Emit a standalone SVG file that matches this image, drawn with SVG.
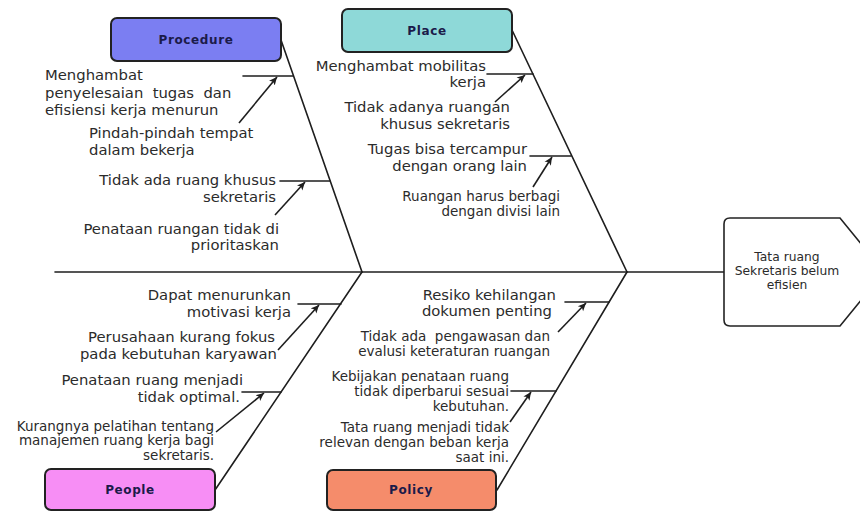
<svg xmlns="http://www.w3.org/2000/svg" width="860" height="512" viewBox="0 0 860 512">
<style>
.bg{fill:#ffffff}
.ln{stroke:#1e1e1e;stroke-width:1.6;fill:none;stroke-linecap:round}
.ar{stroke:#1e1e1e;stroke-width:1.6;fill:none;marker-end:url(#ah)}
.box{stroke:#222222;stroke-width:2}
.lab{font-family:"DejaVu Sans",sans-serif;font-weight:bold;font-size:12px;fill:#1b1b4a;text-anchor:middle;letter-spacing:0.6px}
.t{font-family:"DejaVu Sans",sans-serif;font-size:14.8px;fill:#2b2b2b}
.s{font-family:"DejaVu Sans",sans-serif;font-size:13.5px;fill:#2b2b2b}
.h{font-family:"DejaVu Sans",sans-serif;font-size:12.3px;fill:#2b2b2b;text-anchor:middle}
.e{text-anchor:end}
</style>
<defs>
<marker id="ah" markerWidth="9" markerHeight="9" refX="8" refY="4.5" orient="auto" markerUnits="userSpaceOnUse">
<path d="M0,0.8 L8,4.5 L0,8.2 L2,4.5 Z" fill="#1e1e1e"/>
</marker>
</defs>
<rect class="bg" x="0" y="0" width="860" height="512"/>

<g id="connectors">
<line class="ln" x1="55" y1="272" x2="724" y2="272"/>
<line class="ln" x1="281" y1="40" x2="362" y2="272"/>
<line class="ln" x1="512" y1="30" x2="627" y2="272"/>
<line class="ln" x1="215" y1="490" x2="362" y2="272"/>
<line class="ln" x1="497" y1="490" x2="627" y2="272"/>
<line class="ln" x1="243" y1="76" x2="293" y2="76"/>
<line class="ln" x1="280" y1="181" x2="330" y2="181"/>
<line class="ln" x1="487" y1="74" x2="533" y2="74"/>
<line class="ln" x1="530" y1="156" x2="571" y2="156"/>
<line class="ln" x1="298" y1="304" x2="341" y2="304"/>
<line class="ln" x1="242" y1="392" x2="281" y2="392"/>
<line class="ln" x1="565" y1="302" x2="609" y2="302"/>
<line class="ln" x1="511" y1="391" x2="556" y2="391"/>
<line class="ar" x1="239" y1="123" x2="277" y2="77"/>
<line class="ar" x1="275" y1="215" x2="305" y2="182"/>
<line class="ar" x1="495" y1="102" x2="525" y2="75"/>
<line class="ar" x1="533" y1="187" x2="552" y2="157"/>
<line class="ar" x1="278" y1="350" x2="319" y2="305"/>
<line class="ar" x1="216" y1="432" x2="264" y2="393"/>
<line class="ar" x1="558" y1="332" x2="586" y2="303"/>
<line class="ar" x1="510" y1="422" x2="531" y2="392"/>
</g>

<g id="node-procedure">
<rect class="box" x="111" y="18" width="170" height="43" rx="6" fill="#7b7ef2"/>
<text class="lab" x="196" y="44">Procedure</text>
</g>
<g id="node-place">
<rect class="box" x="342" y="9" width="170" height="43" rx="6" fill="#8ed9d8"/>
<text class="lab" x="427" y="35">Place</text>
</g>
<g id="node-people">
<rect class="box" x="45" y="469" width="170" height="41" rx="6" fill="#f78ef5"/>
<text class="lab" x="130" y="494">People</text>
</g>
<g id="node-policy">
<rect class="box" x="327" y="470" width="169" height="40" rx="6" fill="#f58c6b"/>
<text class="lab" x="411" y="494">Policy</text>
</g>
<g id="node-head">
<path d="M730,218 L840,218 L884,272 L840,326 L730,326 Q724,326 724,320 L724,224 Q724,218 730,218 Z" fill="#ffffff" stroke="#222222" stroke-width="1.6"/>
<text class="h" x="787" y="261">Tata ruang</text>
<text class="h" x="787" y="275">Sekretaris belum</text>
<text class="h" x="787" y="289">efisien</text>
</g>

<g id="cause-procedure-1">
<text class="t" x="45" y="80">Menghambat</text>
<text class="t" x="45" y="97.5" xml:space="preserve">penyelesaian  tugas  dan</text>
<text class="t" x="45" y="115">efisiensi kerja menurun</text>
</g>
<g id="cause-procedure-2">
<text class="t" x="89" y="138">Pindah-pindah tempat</text>
<text class="t" x="89" y="155">dalam bekerja</text>
</g>
<g id="cause-procedure-3">
<text class="t e" x="276" y="185">Tidak ada ruang khusus</text>
<text class="t e" x="276" y="202">sekretaris</text>
</g>
<g id="cause-procedure-4">
<text class="t e" x="279" y="234">Penataan ruangan tidak di</text>
<text class="t e" x="279" y="250">prioritaskan</text>
</g>

<g id="cause-place-1">
<text class="t e" x="486" y="71">Menghambat mobilitas</text>
<text class="t e" x="486" y="87">kerja</text>
</g>
<g id="cause-place-2">
<text class="t e" x="510" y="112">Tidak adanya ruangan</text>
<text class="t e" x="510" y="129">khusus sekretaris</text>
</g>
<g id="cause-place-3">
<text class="t e" x="527" y="154">Tugas bisa tercampur</text>
<text class="t e" x="527" y="171">dengan orang lain</text>
</g>
<g id="cause-place-4">
<text class="s e" x="560" y="201">Ruangan harus berbagi</text>
<text class="s e" x="560" y="215.5">dengan divisi lain</text>
</g>

<g id="cause-people-1">
<text class="t e" x="291" y="300">Dapat menurunkan</text>
<text class="t e" x="291" y="317">motivasi kerja</text>
</g>
<g id="cause-people-2">
<text class="t e" x="275" y="342">Perusahaan kurang fokus</text>
<text class="t e" x="277" y="359">pada kebutuhan karyawan</text>
</g>
<g id="cause-people-3">
<text class="t e" x="243" y="385">Penataan ruang menjadi</text>
<text class="t e" x="240" y="402">tidak optimal.</text>
</g>
<g id="cause-people-4">
<text class="s e" x="214" y="430.5">Kurangnya pelatihan tentang</text>
<text class="s e" x="214" y="445">manajemen ruang kerja bagi</text>
<text class="s e" x="214" y="459.5">sekretaris.</text>
</g>

<g id="cause-policy-1">
<text class="t e" x="556" y="300">Resiko kehilangan</text>
<text class="t e" x="552" y="316">dokumen penting</text>
</g>
<g id="cause-policy-2">
<text class="s e" x="550" y="341" xml:space="preserve">Tidak ada  pengawasan dan</text>
<text class="s e" x="550" y="356">evalusi keteraturan ruangan</text>
</g>
<g id="cause-policy-3">
<text class="s e" x="509" y="381">Kebijakan penataan ruang</text>
<text class="s e" x="509" y="396">tidak diperbarui sesuai</text>
<text class="s e" x="509" y="411">kebutuhan.</text>
</g>
<g id="cause-policy-4">
<text class="s e" x="509" y="432">Tata ruang menjadi tidak</text>
<text class="s e" x="509" y="447">relevan dengan beban kerja</text>
<text class="s e" x="509" y="462">saat ini.</text>
</g>
</svg>
